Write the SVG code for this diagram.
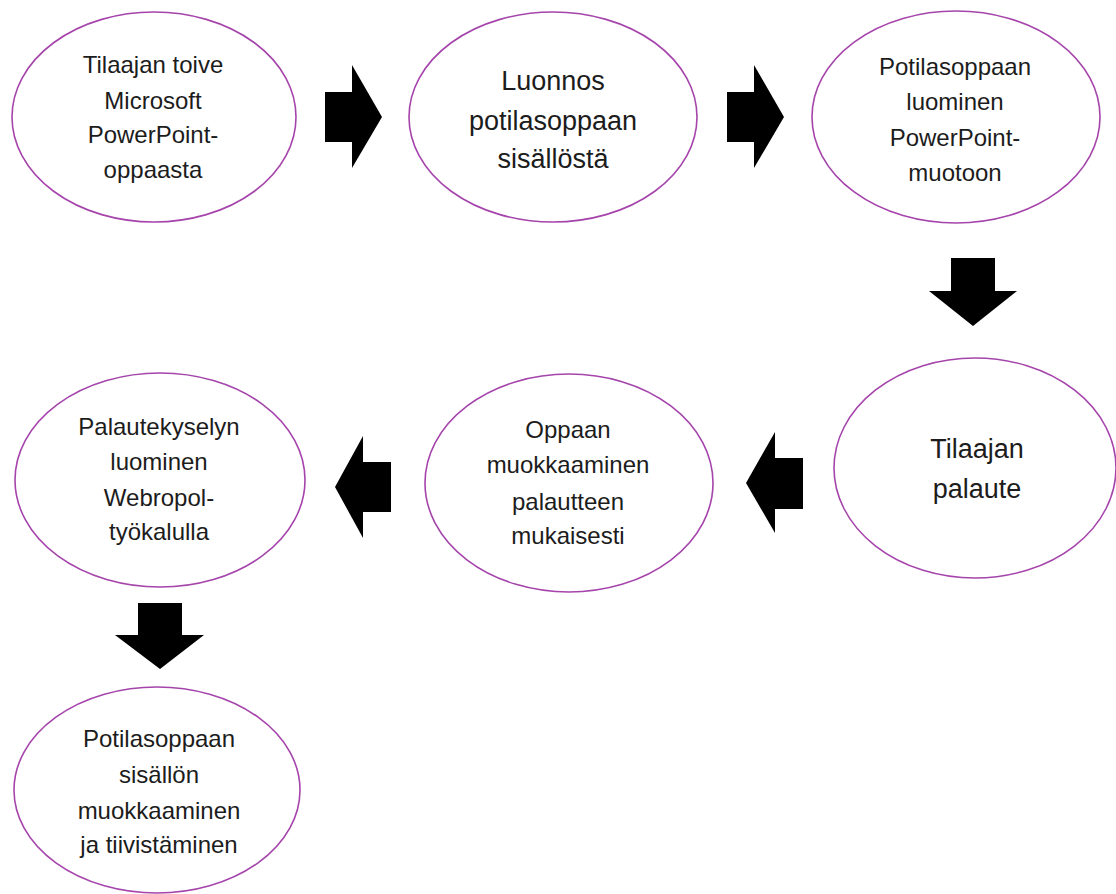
<svg xmlns="http://www.w3.org/2000/svg" width="1116" height="894" viewBox="0 0 1116 894">
<style>
.node ellipse{fill:#ffffff;stroke:#a544ab;stroke-width:1.6}
.node text{font-family:"Liberation Sans",Arial,sans-serif;fill:#1c1c1c;text-anchor:middle}
.s{font-size:24px}
.l{font-size:27px}
.arrow{fill:#000000;stroke:none}
</style>
<rect width="1116" height="894" fill="#ffffff"/>
<g id="connectors">
<polygon class="arrow" points="325,92 352,92 352,65 382,117 352,168 352,142 325,142"/>
<polygon class="arrow" points="727,92 754,92 754,65 784,117 754,168 754,142 727,142"/>
<polygon class="arrow" points="951,258 995,258 995,291 1017,291 973,326 929,291 951,291"/>
<polygon class="arrow" points="803,458 775,458 775,432 746,483 775,533 775,509 803,509"/>
<polygon class="arrow" points="391,462 363,462 363,436 335,487 363,538 363,512 391,512"/>
<polygon class="arrow" points="138,603 182,603 182,635 204,635 160,669 115,635 138,635"/>
</g>
<g id="node1" class="node">
<ellipse cx="154" cy="117" rx="142" ry="105"/>
<text class="s" x="153"><tspan x="153" y="73">Tilaajan toive</tspan><tspan x="153" y="109">Microsoft</tspan><tspan x="153" y="143">PowerPoint-</tspan><tspan x="153" y="178">oppaasta</tspan></text>
</g>
<g id="node2" class="node">
<ellipse cx="553" cy="117" rx="144" ry="105"/>
<text class="l" x="553"><tspan x="553" y="90">Luonnos</tspan><tspan x="553" y="130">potilasoppaan</tspan><tspan x="553" y="168">sisällöstä</tspan></text>
</g>
<g id="node3" class="node">
<ellipse cx="956" cy="117" rx="144" ry="106"/>
<text class="s" x="955"><tspan x="955" y="75">Potilasoppaan</tspan><tspan x="955" y="110">luominen</tspan><tspan x="955" y="146">PowerPoint-</tspan><tspan x="955" y="181">muotoon</tspan></text>
</g>
<g id="node4" class="node">
<ellipse cx="975" cy="468" rx="141" ry="110"/>
<text class="l" x="977"><tspan x="977" y="458">Tilaajan</tspan><tspan x="977" y="498">palaute</tspan></text>
</g>
<g id="node5" class="node">
<ellipse cx="569" cy="483" rx="144" ry="109"/>
<text class="s" x="568"><tspan x="568" y="438">Oppaan</tspan><tspan x="568" y="473">muokkaaminen</tspan><tspan x="568" y="510">palautteen</tspan><tspan x="568" y="544">mukaisesti</tspan></text>
</g>
<g id="node6" class="node">
<ellipse cx="160" cy="480" rx="145" ry="107"/>
<text class="s" x="159"><tspan x="159" y="435">Palautekyselyn</tspan><tspan x="159" y="470">luominen</tspan><tspan x="159" y="506">Webropol-</tspan><tspan x="159" y="540">työkalulla</tspan></text>
</g>
<g id="node7" class="node">
<ellipse cx="157" cy="790" rx="143" ry="103"/>
<text class="s" x="159"><tspan x="159" y="747">Potilasoppaan</tspan><tspan x="159" y="783">sisällön</tspan><tspan x="159" y="819">muokkaaminen</tspan><tspan x="159" y="853">ja tiivistäminen</tspan></text>
</g>
</svg>
